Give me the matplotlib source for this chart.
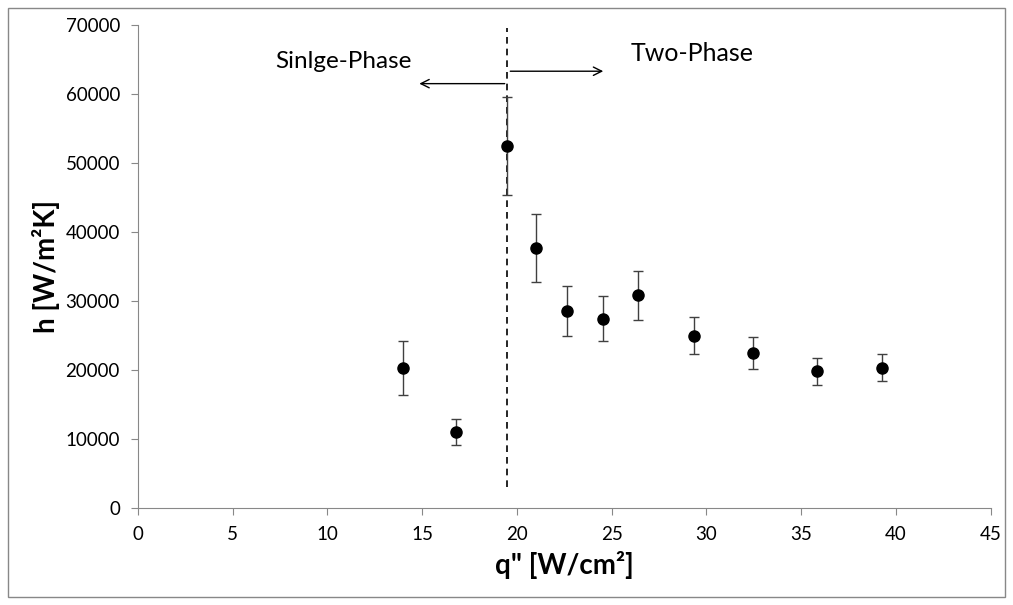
import matplotlib
matplotlib.use("Agg")
import matplotlib.pyplot as plt
from matplotlib.patches import Rectangle

plt.rcParams['font.family'] = ['Lato', 'DejaVu Sans']

q = [13.98, 16.77, 19.46, 21.0, 22.66, 24.53, 26.39, 29.32, 32.45, 35.83, 39.27]
h = [20300, 11000, 52500, 37700, 28550, 27450, 30800, 25000, 22450, 19800, 20350]
h_err = [3950, 1850, 7100, 4900, 3600, 3300, 3600, 2730, 2300, 1950, 1950]

x_ticks = [0, 5, 10, 15, 20, 25, 30, 35, 40, 45]
y_ticks = [0, 10000, 20000, 30000, 40000, 50000, 60000, 70000]

boundary_q = 19.5
boundary_h = [3000, 69500]

fig = plt.figure(figsize=(10.13, 6.05), dpi=100)
ax = fig.add_axes([0.1362, 0.1603, 0.978 - 0.1362, 0.9587 - 0.1603])

ax.errorbar(q, h, yerr=h_err, fmt='o', color='black', markersize=8,
            ecolor='#404040', elinewidth=1.0, capsize=3.5, capthick=1.0, zorder=3)

ax.plot([boundary_q, boundary_q], boundary_h, color='black', linestyle=(0, (4, 3)),
        linewidth=1.2, zorder=2)

ax.annotate('', xy=(14.7, 61500), xytext=(boundary_q, 61500),
            arrowprops=dict(arrowstyle='->', color='black', lw=1.0, mutation_scale=15))
ax.annotate('', xy=(24.7, 63300), xytext=(boundary_q, 63300),
            arrowprops=dict(arrowstyle='->', color='black', lw=1.0, mutation_scale=15))
ax.text(10.86, 64700, 'Sinlge-Phase', ha='center', va='center', fontsize=17.5)
ax.text(29.25, 65800, 'Two-Phase', ha='center', va='center', fontsize=18)

ax.set_xlim(0, 45)
ax.set_ylim(0, 70000)
ax.set_xticks(x_ticks)
ax.set_yticks(y_ticks)
ax.tick_params(axis='both', colors='#888888', labelcolor='black', labelsize=13.5,
               direction='out', length=5, pad=8)
for s in ['top', 'right']:
    ax.spines[s].set_visible(False)
for s in ['left', 'bottom']:
    ax.spines[s].set_color('#888888')

ax.set_xlabel('q" [W/cm²]', fontsize=20, fontweight='bold', labelpad=6)
ax.set_ylabel('h [W/m²K]', fontsize=20, fontweight='bold', labelpad=4)

fig.patches.append(Rectangle((8 / 1013, 8 / 605), 997 / 1013, 589 / 605,
                             transform=fig.transFigure, fill=False,
                             edgecolor='#888888', linewidth=1.0))

fig.savefig('out.png', dpi=100)
